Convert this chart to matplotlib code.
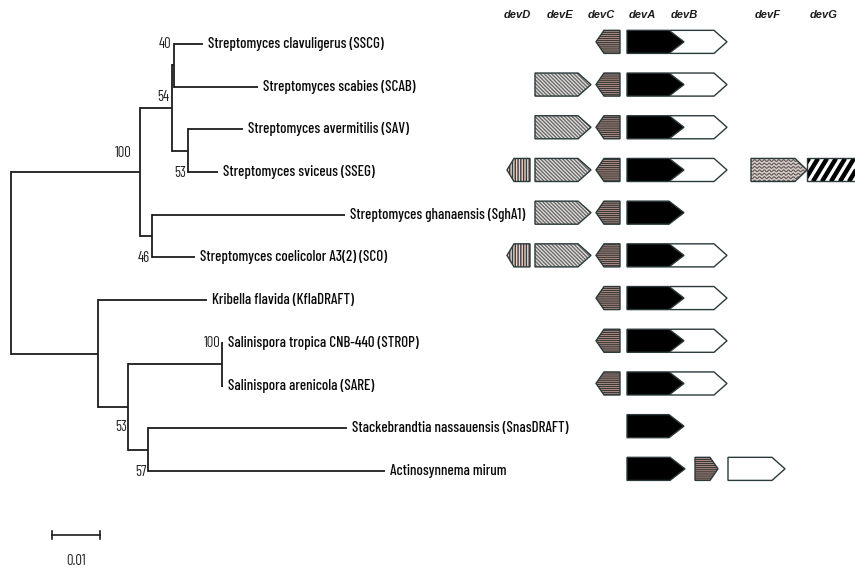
import numpy as np
import matplotlib
matplotlib.use("Agg")
import matplotlib.pyplot as plt
from matplotlib.patches import Polygon

# leaf labels (top to bottom)
leaves = [
    "Streptomyces clavuligerus (SSCG)",
    "Streptomyces scabies (SCAB)",
    "Streptomyces avermitilis (SAV)",
    "Streptomyces sviceus (SSEG)",
    "Streptomyces ghanaensis (SghA1)",
    "Streptomyces coelicolor A3(2) (SCO)",
    "Kribella flavida (KflaDRAFT)",
    "Salinispora tropica CNB-440 (STROP)",
    "Salinispora arenicola (SARE)",
    "Stackebrandtia nassauensis (SnasDRAFT)",
    "Actinosynnema mirum",
]

# tree: (branch length, bootstrap, label place, children) ; leaf = (branch length, leaf index)
tree = (0.0, None, None, [
    (0.0269, 100, "above", [
        (0.0067, 54, "upper", [
            (0.0003, 40, "top", [(0.0061, 0), (0.0176, 1)]),
            (0.0033, 53, "bottom", [(0.0115, 2), (0.0063, 3)]),
        ]),
        (0.0025, 46, "bottom", [(0.0402, 4), (0.0090, 5)]),
    ]),
    (0.0181, None, None, [
        (0.0227, 6),
        (0.0063, 53, "below", [
            (0.0196, 100, "top", [(0.0002, 7), (0.0002, 8)]),
            (0.0042, 57, "bottom", [(0.0413, 9), (0.0494, 10)]),
        ]),
    ]),
])

# gene columns: header, start, end, direction
gene_names = ["devD", "devE", "devC", "devA", "devB", "devF", "devG"]
gene_start = [507, 535, 596, 627, 670, 751, 807]
gene_end = [530, 591, 620, 684, 727, 807, 857]
gene_dir = [-1, 1, -1, 1, 1, 1, 1]
header_x = [517, 560, 601, 642, 684, 768, 824]

# genes found in each genome (row order as leaves)
row_genes = [
    ["devC", "devB", "devA"],
    ["devE", "devC", "devB", "devA"],
    ["devE", "devC", "devB", "devA"],
    ["devD", "devE", "devC", "devB", "devA", "devF", "devG"],
    ["devE", "devC", "devA"],
    ["devD", "devE", "devC", "devB", "devA"],
    ["devC", "devB", "devA"],
    ["devC", "devB", "devA"],
    ["devC", "devB", "devA"],
    ["devA"],
    [("devA", 627, 685, 1), ("devC", 695, 718, 1), ("devB", 728, 785, 1)],
]

scale_len = 0.01

narrow = ["Barlow Condensed", "Archivo Narrow", "DejaVu Sans"]
plt.rcParams["font.family"] = ["Liberation Sans", "DejaVu Sans"]

fig = plt.figure(figsize=(8.55, 5.71), dpi=100)
ax = fig.add_axes([0, 0, 1, 1])
ax.set_xlim(-11 / 4800, 844 / 4800)
ax.set_ylim((571 - 44) / 42.7, -44 / 42.7)
ax.axis("off")

gx = fig.add_axes([0, 0, 1, 1])
gx.set_xlim(0, 855)
gx.set_ylim(ax.get_ylim())
gx.axis("off")
gx.patch.set_alpha(0)

lc = "#1c1c1c"
lw = 1.3
px = 1 / 4800

# bootstrap label placement: (row offset from anchor, gap in px)
place_opts = {"top": (0.0, 2), "bottom": (0.02, 2), "above": (-0.45, 9),
              "upper": (-0.26, 3), "below": (0.48, 1)}


def draw(node, x0):
    if len(node) == 2:
        bl, idx = node
        x1 = x0 + bl
        ax.plot([x0, x1], [idx, idx], color=lc, lw=lw, solid_capstyle="butt")
        ax.text(x1 + 5 * px, idx, leaves[idx], fontsize=10.8, family=narrow,
                weight="medium", va="center", ha="left", color="#0a0a0a")
        return idx
    bl, boot, place, kids = node
    x1 = x0 + bl
    ys = [draw(k, x1) for k in kids]
    ymid = (ys[0] + ys[-1]) / 2
    ax.plot([x1, x1], [ys[0], ys[-1]], color=lc, lw=lw, solid_capstyle="projecting")
    if bl > 0:
        ax.plot([x0, x1], [ymid, ymid], color=lc, lw=lw, solid_capstyle="butt")
    if boot is not None:
        dy, gap = place_opts[place]
        anchor = {"top": ys[0], "bottom": ys[-1]}.get(place, ymid)
        ax.text(x1 - gap * px, anchor + dy, str(boot), fontsize=10.5, family=narrow,
                ha="right", va="center", color="#222222")
    return ymid


draw(tree, 0.0)

# scale bar
sy = 11.5
ax.plot([41 * px, 41 * px + scale_len], [sy, sy], color=lc, lw=1.2)
for xe in (41 * px, 41 * px + scale_len):
    ax.plot([xe, xe], [sy - 0.1, sy + 0.1], color=lc, lw=1.2)
ax.text(41 * px + scale_len / 2, sy + 0.6, "0.01", fontsize=10.5, family=narrow,
        ha="center", va="center", color="#222222")

# gene arrows: face colour, hatch, hatch colour
hh = 0.27
styles = {
    "devA": ("black", None, None),
    "devB": ("white", None, None),
    "devC": ("#d7a99c", "--------", "#3a3a3a"),
    "devD": ("#f2d2c8", "||||||", "#3a3a3a"),
    "devE": ("#e6e2e0", "\\" * 9, "#6a6a6a"),
    "devF": ("#dcccc6", None, None),
    "devG": ("white", None, None),
}
heads = {"devA": 15, "devB": 13, "devC": 8, "devD": 7, "devE": 13, "devF": 12, "devG": 0}


def arrow(name, xs, xe, d, y):
    h = min(heads[name], (xe - xs) * 0.45)
    if d > 0:
        pts = [(xs, y - hh), (xe - h, y - hh), (xe, y), (xe - h, y + hh), (xs, y + hh)]
    else:
        pts = [(xe, y - hh), (xs + h, y - hh), (xs, y), (xs + h, y + hh), (xe, y + hh)]
    fc, hatch, hc = styles[name]
    z = 4 if name == "devA" else 3
    p = Polygon(pts, closed=True, facecolor=fc, edgecolor=hc or fc, lw=0,
                hatch=hatch, zorder=z)
    gx.add_patch(p)
    if name == "devF":
        t = np.linspace(xs, xe, 200)
        for k in np.arange(-hh + 0.05, hh, 0.08):
            ln, = gx.plot(t, y + k + 0.022 * np.sin((t - xs) * 1.3), color="#5a5a5a",
                          lw=0.8, zorder=z + 0.2)
            ln.set_clip_path(p)
    if name == "devG":
        for k in np.arange(xs - 30, xe + 10, 9):
            ln, = gx.plot([k, k + 14], [y + hh, y - hh], color="black", lw=3.2,
                          zorder=z + 0.2, solid_capstyle="butt")
            ln.set_clip_path(p)
    gx.add_patch(Polygon(pts, closed=True, fill=False, edgecolor="#2a3a3a",
                         lw=1.0, zorder=z + 0.4))


for r, genes in enumerate(row_genes):
    for g in genes:
        if isinstance(g, tuple):
            arrow(g[0], g[1], g[2], g[3], r - 0.05)
        else:
            i = gene_names.index(g)
            arrow(g, gene_start[i], gene_end[i], gene_dir[i], r - 0.05)

for name, hx in zip(gene_names, header_x):
    gx.text(hx, -0.68, name, fontsize=8, style="italic", weight="bold",
            ha="center", va="center", color="#1a1a1a")

fig.savefig("out.png", dpi=100, facecolor="white")
